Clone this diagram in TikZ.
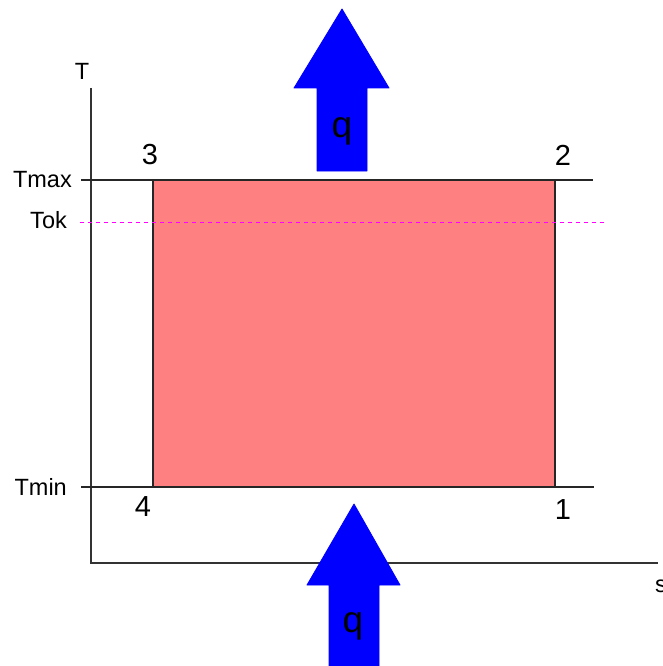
\documentclass[tikz,border=0pt]{standalone}
\usepackage{fontspec}
\setmainfont{Liberation Sans}
\definecolor{areafill}{HTML}{FF8080}
\definecolor{okline}{HTML}{FF00FF}
\definecolor{heatblue}{HTML}{0000FF}
\begin{document}
\begin{tikzpicture}[x=1pt,y=-1pt,
  axis/.style={line width=1.3pt,draw=black!80},
  level/.style={line width=1.2pt,draw=black!85},
  axlabel/.style={font=\fontsize{23.5}{23.5}\selectfont,inner sep=0pt},
  ptlabel/.style={font=\fontsize{29}{29}\selectfont,inner sep=0pt},
  qlabel/.style={font=\fontsize{37}{37}\selectfont,inner sep=0pt},
  heatarrow/.style={fill=heatblue,draw=heatblue,line width=0.8pt,line join=round}]
\useasboundingbox (0,0) rectangle (662,666);
% area
\filldraw[fill=areafill,draw=black!85,line width=1.2pt] (153,180) rectangle (555,487);
% axes
\coordinate (o) at (91,563);
\coordinate (ytop) at (91,88);
\coordinate (xend) at (658,563);
\draw[axis] (ytop) -- (o) -- (xend);
% levels
\coordinate (tmaxL) at (81,180); \coordinate (tmaxR) at (593,180);
\coordinate (tminL) at (81,487); \coordinate (tminR) at (594,487);
\draw[level] (tmaxL) -- (tmaxR);
\draw[level] (tminL) -- (tminR);
\coordinate (tokL) at (80,222); \coordinate (tokR) at (606,222);
\draw[okline,line width=1pt,dash pattern=on 4pt off 4pt] (tokL) -- (tokR);
% axis labels
\node[axlabel] (T) at (82,71) {T};
\node[axlabel,anchor=west] (s) at (655,586) {s};
\node[axlabel,anchor=east] (tmax) at (72,180) {Tmax};
\node[axlabel,anchor=east] (tok) at (67,220) {Tok};
\node[axlabel,anchor=east] (tmin) at (67,487) {Tmin};
% point labels
\node[ptlabel] (p3) at (150,155) {3};
\node[ptlabel] (p2) at (563,155) {2};
\node[ptlabel] (p4) at (143,507) {4};
\node[ptlabel] (p1) at (563,510) {1};
% heat arrows
\path[heatarrow] (317,171) -- (317,88) -- (294,88) -- (342,9) -- (389,88) -- (367,88) -- (367,171) -- cycle;
\node[qlabel] (qtop) at (342,131) {q};
\path[heatarrow] (329,668) -- (329,585) -- (307,585) -- (354,504) -- (400,585) -- (379,585) -- (379,668) -- cycle;
\node[qlabel] (qbot) at (353,626) {q};
\end{tikzpicture}
\end{document}
